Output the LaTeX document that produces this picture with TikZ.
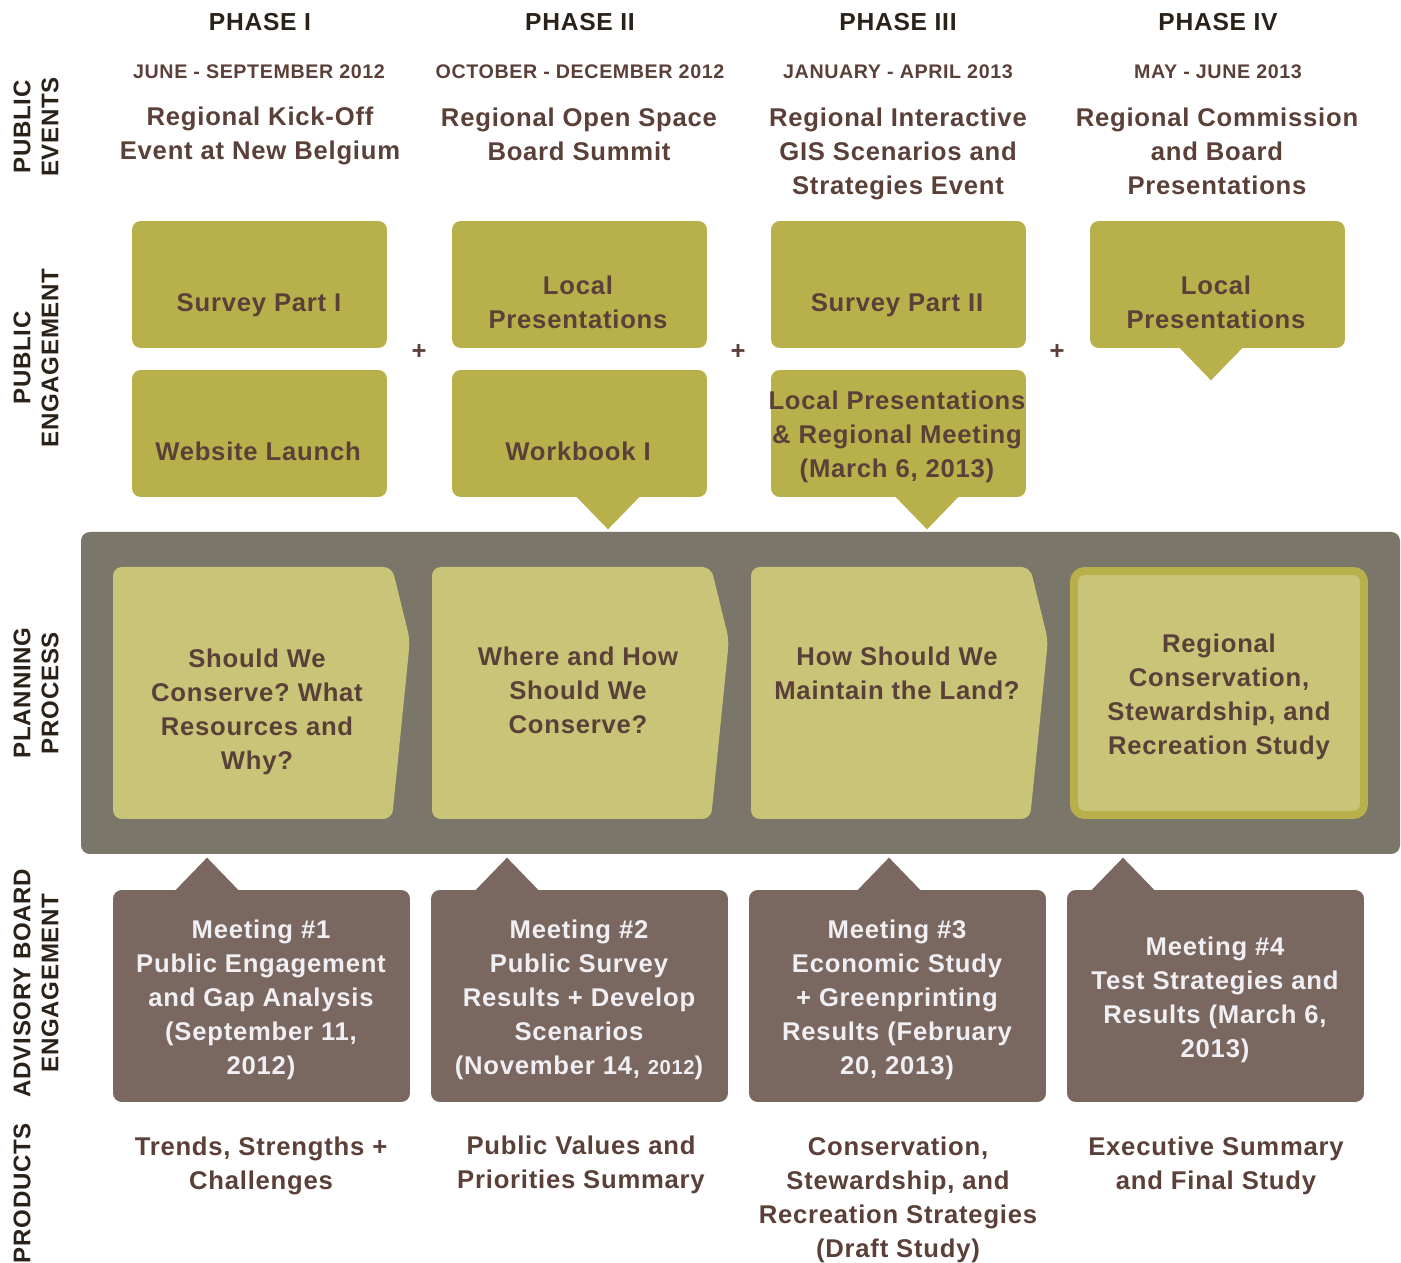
\documentclass[tikz,border=0pt]{standalone}
\usepackage{fontspec}
\setmainfont{Liberation Sans}[LetterSpace=3]
\usetikzlibrary{calc}

\definecolor{boxolive}{HTML}{B8B14B}
\definecolor{lightolive}{HTML}{C9C478}
\definecolor{bandgray}{HTML}{7A766A}
\definecolor{boardbrown}{HTML}{7A675F}
\definecolor{txtbrown}{HTML}{5A4038}
\definecolor{headtxt}{HTML}{2A2119}
\definecolor{paletxt}{HTML}{F0F0F4}

\begin{document}
\begin{tikzpicture}[x=0.02cm,y=-0.02cm,
    head/.style={text=headtxt,font=\bfseries\fontsize{14}{17}\selectfont},
    date/.style={text=txtbrown,font=\bfseries\fontsize{11.2}{13}\selectfont},
    title/.style={text=txtbrown,align=center,inner sep=0pt,font=\bfseries\fontsize{14.6}{19.4}\selectfont},
    pale/.style={title,text=paletxt},
    side/.style={rotate=90,align=center,text=headtxt,inner sep=0pt,font=\bfseries\fontsize{13.7}{15.9}\selectfont},
    engbox/.style={fill=boxolive,rounded corners=5pt,inner sep=0pt,minimum width=5.1cm,minimum height=2.54cm},
    boardbox/.style={fill=boardbrown,rounded corners=5pt,inner sep=0pt,minimum width=5.94cm,minimum height=4.24cm}]
  \useasboundingbox (0,0) rectangle (1401,1263);
  % Phases
  \node[head] (h1) at (260,22) {PHASE I};
  \node[head] (h2) at (580,22) {PHASE II};
  \node[head] (h3) at (898,22) {PHASE III};
  \node[head] (h4) at (1218,22) {PHASE IV};
  \node[date] (d1) at (259,72) {JUNE - SEPTEMBER 2012};
  \node[date] (d2) at (580,72) {OCTOBER - DECEMBER 2012};
  \node[date] (d3) at (898,72) {JANUARY - APRIL 2013};
  \node[date] (d4) at (1218,72) {MAY - JUNE 2013};
  % Public events
  \node[title] (t1) at (260,136) {Regional Kick-Off\\Event at New Belgium};
  \node[title] (t2) at (579,134) {Regional Open Space\\Board Summit};
  \node[title] (t3) at (898,154) {Regional Interactive\\GIS Scenarios and\\Strategies Event};
  \node[title] (t4) at (1217,151) {Regional Commission\\and Board\\Presentations};
  % Public engagement
  \node[engbox] (e1) at (259.5,284.5) {};
  \node[engbox] (e2) at (579.5,284.5) {};
  \node[engbox] (e3) at (898.5,284.5) {};
  \node[engbox] (e4) at (1217.5,284.5) {};
  \node[engbox] (w1) at (259.5,433.5) {};
  \node[engbox] (w2) at (579.5,433.5) {};
  \node[engbox] (w3) at (898.5,433.5) {};
  \foreach \b/\o in {w2/28.5, w3/28.5, e4/-6.5}
    \fill[boxolive] ($(\b.south)+(\o-32,-1)$) -- ($(\b.south)+(\o,32)$) -- ($(\b.south)+(\o+32,-1)$) -- cycle;
  \node[title] (e1t) at (259,305) {Survey Part I};
  \node[title] (e2t) at (578,302) {Local\\Presentations};
  \node[title] (e3t) at (897,305) {Survey Part II};
  \node[title] (e4t) at (1216,302) {Local\\Presentations};
  \node[title] (w1t) at (258,451) {Website Launch};
  \node[title] (w2t) at (578,451) {Workbook I};
  \node[title] (w3t) at (897,437) {Local Presentations\\\& Regional Meeting\\(March 6, 2013)};
  \foreach \x in {419,738,1057}
    \node[title] at (\x,352) {+};
  % Planning process
  \fill[bandgray,rounded corners=5pt] (81,532) rectangle (1400,854);
  \foreach \x in {113,432,751}
    \fill[lightolive,rounded corners=5pt] (\x,567) -- (\x+279,567) -- (\x+297,640) -- (\x+279,819) -- (\x,819) -- cycle;
  \draw[boxolive,fill=lightolive,line width=4.5pt,rounded corners=6pt] (1074,571) rectangle (1364,815);
  \node[title] (c1) at (257,712) {Should We\\Conserve?\ What\\Resources and\\Why?};
  \node[title] (c2) at (578,690) {Where and How\\Should We\\Conserve?};
  \node[title] (c3) at (897,673) {How Should We\\Maintain the Land?};
  \node[title] (c4) at (1219,697) {Regional\\Conservation,\\Stewardship, and\\Recreation Study};
  % Advisory board
  \node[boardbox] (a1) at (261.5,996) {};
  \node[boardbox] (a2) at (579.5,996) {};
  \node[boardbox] (a3) at (897.5,996) {};
  \node[boardbox] (a4) at (1215.5,996) {};
  \foreach \b/\o in {a1/-54.5, a2/-72.5, a3/-8.5, a4/-92.5}
    \fill[boardbrown] ($(\b.north)+(\o-32,1)$) -- ($(\b.north)+(\o,-32)$) -- ($(\b.north)+(\o+32,1)$) -- cycle;
  \node[pale] (a1t) at (261,1000) {Meeting \#1\\Public Engagement\\and Gap Analysis\\(September 11,\\2012)};
  \node[pale] (a2t) at (579,1000) {Meeting \#2\\Public Survey\\Results + Develop\\Scenarios\\(November 14, {\fontsize{11.5}{13}\selectfont 2012})};
  \node[pale] (a3t) at (897,1000) {Meeting \#3\\Economic Study\\+ Greenprinting\\Results (February\\20, 2013)};
  \node[pale] (a4t) at (1215,1000) {Meeting \#4\\Test Strategies and\\Results (March 6,\\2013)};
  % Products
  \node[title] (r1) at (261,1166) {Trends, Strengths +\\Challenges};
  \node[title] (r2) at (581,1165) {Public Values and\\Priorities Summary};
  \node[title] (r3) at (898,1200) {Conservation,\\Stewardship, and\\Recreation Strategies\\(Draft Study)};
  \node[title] (r4) at (1216,1166) {Executive Summary\\and Final Study};
  % Row labels
  \node[side] (s1) at (36,127) {PUBLIC\\EVENTS};
  \node[side] (s2) at (36,358) {PUBLIC\\ENGAGEMENT};
  \node[side] (s3) at (36,693) {PLANNING\\PROCESS};
  \node[side] (s4) at (36,983) {ADVISORY BOARD\\ENGAGEMENT};
  \node[side] (s5) at (22,1193) {PRODUCTS};
\end{tikzpicture}
\end{document}
